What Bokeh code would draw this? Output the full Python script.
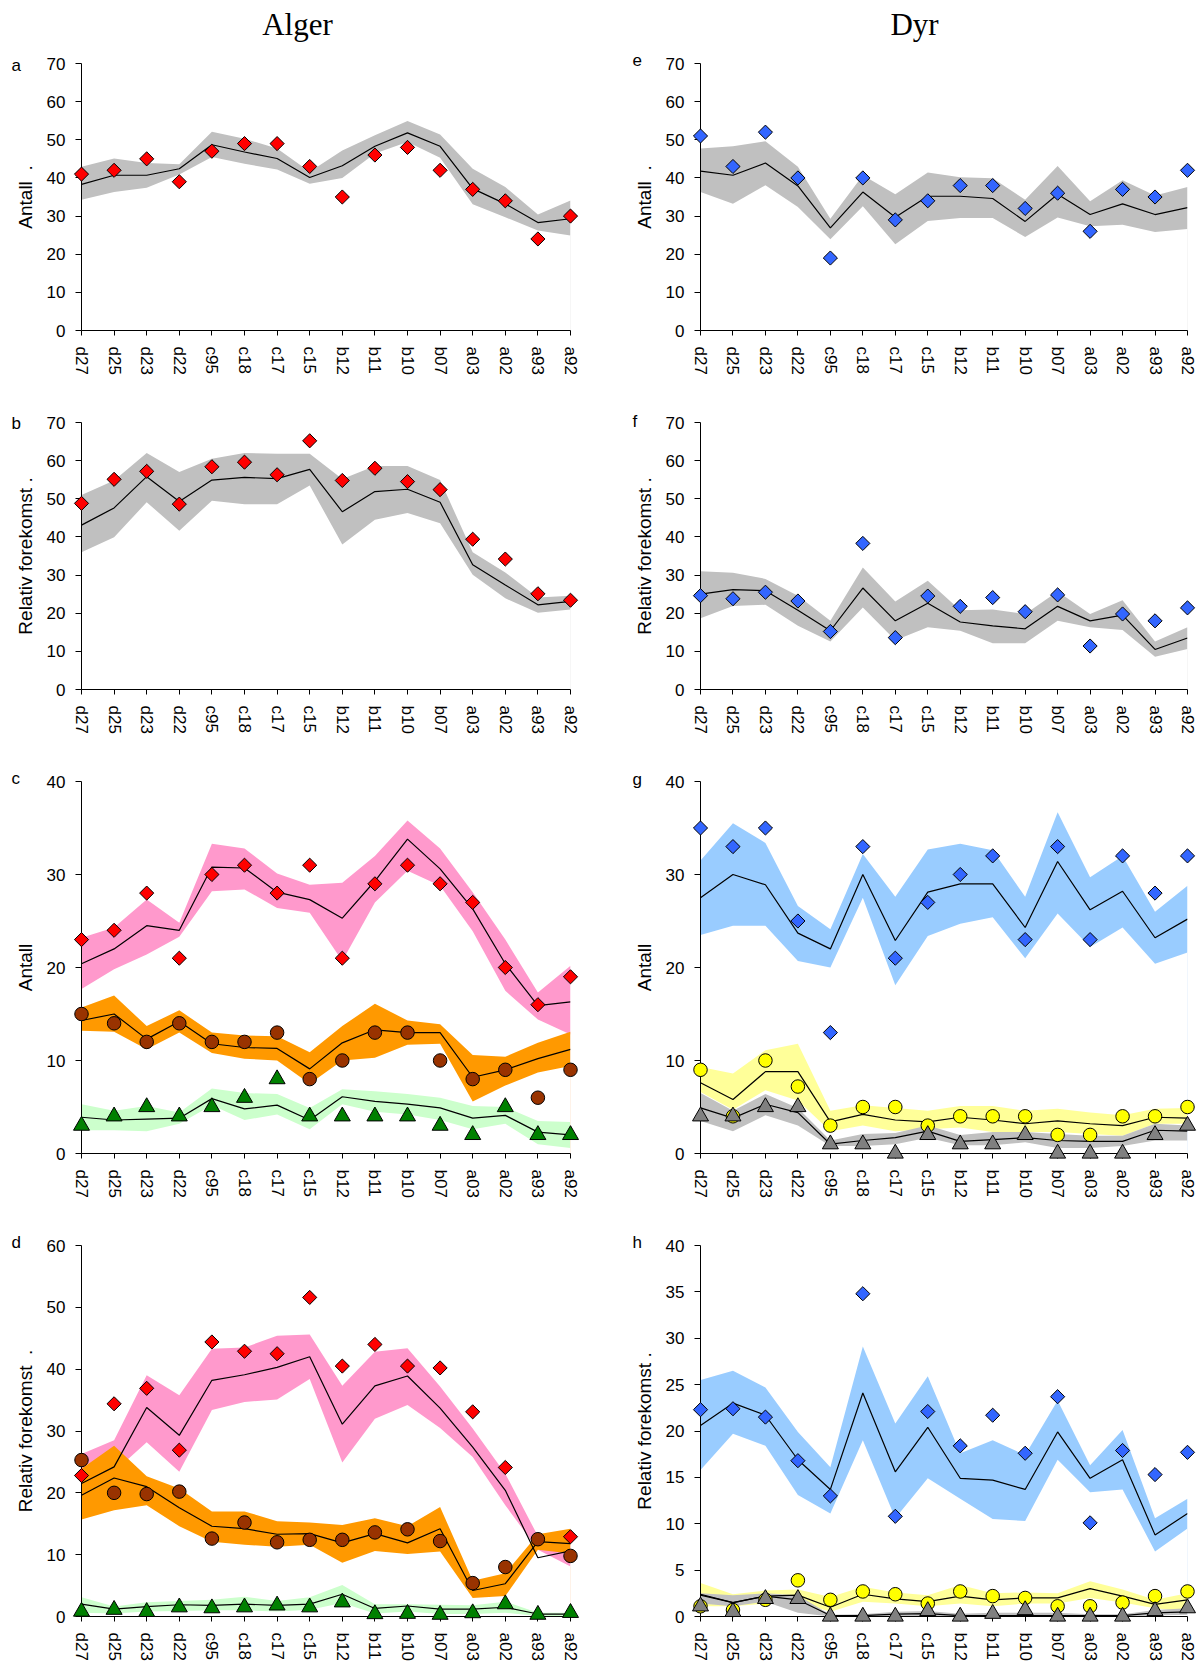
import math
from bokeh.plotting import figure
from bokeh.models import Range1d, FixedTicker
from bokeh.core.properties import value
from bokeh.layouts import column, row
from bokeh.embed import file_html
from bokeh.resources import INLINE

NaN = float("nan")

cats = ["d27", "d25", "d23", "d22", "c95", "c18", "c17", "c15",
        "b12", "b11", "b10", "b07", "a03", "a02", "a93", "a92"]

# ---- panel a (Alger, Antall) ----
a_obs = [41, 42, 45, 39, 47, 49, 49, 43, 35, 46, 48, 42, 37, 34, 24, 30]
a_mean = [38.3, 40.7, 40.7, 42.4, 48.7, 46.8, 45.1, 40.1, 43.2, 48.3, 51.8, 48.3, 37.2, 33.2, 28.3, 29.3]
a_hi = [42.9, 45.1, 43.9, 43.6, 52.1, 50.3, 47.7, 41.6, 47.2, 51.2, 54.9, 51.4, 42.4, 37.6, 30.4, 34.1]
a_lo = [34.3, 36.3, 37.4, 40.9, 45.5, 43.7, 42.2, 38.5, 40.0, 46.4, 49.4, 45.3, 33.1, 29.7, 26.2, 24.9]

# ---- panel b (Alger, Relativ forekomst) ----
b_obs = [48.8, 55.1, 57.2, 48.6, 58.4, 59.6, 56.3, 65.2, 54.8, 58.0, 54.5, 52.4, 39.4, 34.2, 25.1, 23.4]
b_mean = [43.1, 47.6, 55.8, 49.3, 54.9, 55.6, 55.3, 57.7, 46.6, 51.9, 52.5, 49.1, 32.7, 27.4, 22.2, 23.1]
b_hi = [51.0, 54.8, 62.0, 57.0, 60.5, 62.0, 61.8, 61.8, 55.2, 58.6, 58.6, 54.9, 36.0, 30.7, 24.1, 24.6]
b_lo = [36.0, 39.9, 49.1, 41.6, 49.5, 48.6, 48.6, 53.5, 38.0, 44.5, 46.3, 43.6, 30.1, 23.9, 20.1, 21.0]

# ---- panel c (Alger, Antall, three groups) ----
c_red_obs = [23, 24, 28, 21, 30, 31, 28, 31, 21, 29, 31, 29, 27, 20, 16, 19]
c_red_mean = [20.4, 22.0, 24.5, 24.0, 30.8, 30.7, 28.1, 27.3, 25.3, 29.3, 33.8, 30.6, 26.3, 20.4, 15.9, 16.3]
c_red_hi = [23.2, 24.3, 27.3, 24.8, 33.3, 32.8, 30.1, 28.9, 29.1, 32.0, 35.8, 32.8, 28.1, 23.0, 17.3, 20.2]
c_red_lo = [17.7, 19.8, 21.4, 23.3, 28.2, 28.4, 26.4, 25.9, 20.7, 27.0, 30.4, 28.8, 23.9, 17.5, 14.4, 12.8]
c_brown_obs = [15, 14, 12, 14, 12, 12, 13, 8, 10, 13, 13, 10, 8, 9, 6, 9]
c_brown_mean = [14.3, 15.0, 12.3, 14.2, 11.8, 11.4, 11.3, 9.1, 11.9, 13.3, 13.0, 13.0, 8.2, 9.0, 10.2, 11.2]
c_brown_hi = [15.7, 17.0, 13.7, 15.4, 13.0, 12.7, 12.6, 10.9, 13.7, 16.1, 14.3, 13.9, 10.6, 10.4, 11.9, 13.1]
c_brown_lo = [13.2, 13.1, 11.2, 13.0, 10.8, 10.2, 10.0, 7.5, 10.0, 10.3, 11.7, 11.8, 5.6, 7.3, 8.7, 9.4]
c_green_obs = [3, 4, 5, 4, 5, 6, 8, 4, 4, 4, 4, 3, 2, 5, 2, 2]
c_green_mean = [3.9, 3.6, 3.7, 3.8, 5.9, 4.8, 5.2, 3.6, 6.1, 5.6, 5.3, 4.9, 3.8, 4.1, 2.3, 2.0]
c_green_hi = [5.3, 4.6, 5.1, 4.4, 7.0, 6.5, 6.4, 4.9, 6.9, 6.7, 6.4, 6.0, 5.1, 5.0, 3.5, 3.4]
c_green_lo = [2.5, 2.5, 2.4, 3.2, 5.2, 3.6, 4.2, 2.6, 5.3, 4.5, 4.2, 3.6, 2.6, 3.2, 1.0, 0.6]

# ---- panel d (Alger, Relativ forekomst, three groups) ----
d_red_obs = [22.8, 34.4, 36.9, 26.9, 44.4, 42.9, 42.5, 51.6, 40.5, 44.0, 40.5, 40.2, 33.1, 24.1, NaN, 12.9]
d_red_mean = [21.5, 24.2, 33.8, 29.3, 38.2, 39.1, 40.3, 42.0, 31.1, 37.3, 38.9, 33.7, 27.4, 20.4, 9.5, 10.6]
d_red_hi = [26.3, 28.5, 39.0, 35.8, 43.3, 43.5, 45.4, 45.6, 37.3, 42.8, 43.4, 37.2, 30.4, 23.1, 13.0, 13.7]
d_red_lo = [18.8, 23.4, 28.2, 23.4, 33.4, 34.7, 35.1, 38.4, 24.9, 32.0, 34.2, 30.5, 25.8, 18.0, 10.8, 8.1]
d_brown_obs = [25.3, 20.0, 19.8, 20.2, 12.6, 15.2, 12.0, 12.4, 12.4, 13.6, 14.1, 12.2, 5.4, 8.0, 12.5, 9.8]
d_brown_mean = [19.6, 22.4, 21.0, 17.6, 14.6, 14.2, 13.3, 13.4, 11.9, 13.4, 11.9, 14.2, 4.2, 5.3, 12.1, 11.8]
d_brown_hi = [23.9, 27.6, 22.7, 20.7, 17.0, 17.0, 15.4, 15.2, 14.8, 15.9, 14.6, 17.7, 5.8, 7.0, 13.3, 14.2]
d_brown_lo = [15.7, 17.2, 18.0, 14.6, 12.1, 11.6, 11.3, 11.6, 8.7, 10.6, 10.1, 10.5, 3.0, 3.3, 10.8, 10.2]
d_green_obs = [0.8, 1.1, 0.75, 1.5, 1.35, 1.5, 1.8, 1.5, 2.3, 0.4, 0.45, 0.3, 0.55, 2.0, 0.3, 0.6]
d_green_mean = [2.0, 1.2, 1.6, 1.9, 1.8, 2.0, 1.8, 2.0, 3.6, 1.3, 1.7, 1.2, 1.2, 1.5, 0.4, 0.4]
d_green_hi = [3.1, 1.6, 2.3, 2.5, 2.7, 3.2, 2.5, 3.1, 5.1, 2.0, 2.0, 1.9, 1.8, 2.4, 0.6, 0.6]
d_green_lo = [0.6, 0.5, 0.8, 0.9, 1.0, 1.0, 0.8, 1.1, 2.2, 0.5, 0.8, 0.4, 0.4, 0.6, 0.1, 0.1]

# ---- panel e (Dyr, Antall) ----
e_obs = [51, 43, 52, 40, 19, 40, 29, 34, 38, 38, 32, 36, 26, 37, 35, 42]
e_mean = [41.8, 40.7, 43.9, 37.9, 26.9, 36.3, 29.7, 35.2, 35.2, 34.6, 28.6, 35.7, 30.4, 33.2, 30.4, 32.2]
e_hi = [47.7, 48.3, 49.6, 42.9, 29.3, 40.7, 35.7, 41.4, 40.2, 39.9, 34.3, 43.1, 33.9, 39.4, 35.4, 37.6]
e_lo = [36.3, 33.2, 38.1, 32.4, 23.9, 32.6, 22.6, 28.7, 29.5, 29.5, 24.5, 29.6, 27.3, 27.7, 25.8, 26.6]

# ---- panel f (Dyr, Relativ forekomst) ----
f_obs = [24.6, 23.8, 25.5, 23.2, 15.2, 38.3, 13.6, 24.5, 21.8, 24.1, 20.4, 24.8, 11.4, 19.8, 18.0, 21.4]
f_mean = [25.0, 26.2, 25.9, 20.8, 15.4, 26.6, 18.0, 22.6, 17.7, 16.7, 15.9, 21.8, 18.0, 19.5, 10.5, 13.5]
f_hi = [31.0, 30.6, 29.0, 24.6, 18.0, 32.0, 23.1, 28.5, 20.8, 21.0, 19.8, 25.7, 19.8, 23.4, 12.6, 16.3]
f_lo = [18.7, 21.9, 22.2, 16.7, 12.6, 21.5, 12.9, 16.3, 15.4, 12.1, 12.1, 18.0, 16.3, 15.6, 8.6, 10.6]

# ---- panel g (Dyr, Antall, three groups) ----
g_blue_obs = [35, 33, 35, 25, 13, 33, 21, 27, 30, 32, 23, 33, 23, 32, 28, 32]
g_blue_mean = [27.5, 30.0, 28.9, 23.7, 22.0, 30.0, 22.9, 28.1, 29.0, 29.0, 24.3, 31.4, 26.2, 28.2, 23.2, 25.2]
g_blue_hi = [31.5, 35.5, 33.4, 26.6, 24.1, 32.2, 27.6, 32.7, 33.3, 32.6, 27.6, 36.7, 29.7, 32.0, 26.0, 28.8]
g_blue_lo = [23.5, 24.5, 24.5, 20.7, 20.0, 27.5, 18.1, 23.4, 24.7, 25.4, 21.0, 25.8, 22.2, 24.3, 20.4, 21.6]
g_yel_obs = [9, 4, 10, 7.2, 3, 5, 5, 3, 4, 4, 4, 2, 2, 4, 4, 5]
g_yel_mean = [7.6, 5.8, 8.8, 8.8, 3.4, 4.2, 3.6, 3.4, 3.9, 3.6, 3.2, 3.5, 3.2, 3.0, 3.9, 3.8]
g_yel_hi = [9.3, 8.6, 11.1, 11.8, 4.6, 5.2, 4.9, 4.6, 5.1, 5.1, 4.6, 4.8, 4.4, 4.1, 4.8, 4.9]
g_yel_lo = [6.6, 4.7, 6.8, 5.7, 2.4, 3.0, 2.4, 2.6, 2.8, 2.3, 2.3, 2.3, 2.1, 1.9, 3.2, 3.2]
g_grey_obs = [4, 4, 5, 5, 1, 1, 0, 2, 1, 1, 2, 0, 0, 0, 2, 3]
g_grey_mean = [4.9, 3.8, 5.3, 4.4, 1.0, 1.4, 1.7, 2.4, 1.3, 1.5, 1.7, 1.4, 1.3, 1.3, 2.5, 2.4]
g_grey_hi = [6.5, 4.6, 6.4, 4.9, 1.4, 2.1, 2.2, 3.0, 2.0, 2.3, 2.3, 2.1, 1.9, 1.9, 3.2, 3.0]
g_grey_lo = [3.5, 2.4, 4.1, 3.0, 0.8, 0.8, 1.0, 1.7, 0.9, 0.9, 1.2, 0.6, 0.6, 0.8, 1.4, 1.4]

# ---- panel h (Dyr, Relativ forekomst, three groups) ----
h_blue_obs = [22.3, 22.4, 21.5, 16.8, 13.0, 34.8, 10.8, 22.1, 18.4, 21.7, 17.6, 23.7, 10.1, 17.9, 15.3, 17.7]
h_blue_mean = [20.6, 23.0, 21.7, 16.9, 13.7, 24.1, 15.6, 20.4, 14.9, 14.7, 13.7, 19.9, 14.9, 16.9, 8.8, 11.1]
h_blue_hi = [25.5, 26.5, 24.7, 19.9, 16.1, 29.1, 20.8, 25.9, 17.6, 19.0, 17.4, 23.3, 16.3, 20.1, 10.6, 12.7]
h_blue_lo = [15.8, 19.7, 18.4, 13.1, 11.1, 19.0, 10.6, 14.9, 12.7, 10.5, 10.3, 16.9, 13.4, 13.7, 7.0, 9.5]
h_yel_obs = [1.1, 0.7, 1.8, 3.9, 1.8, 2.7, 2.4, 1.4, 2.7, 2.2, 2.0, 1.1, 1.1, 1.5, 2.2, 2.7]
h_yel_mean = [2.3, 1.5, 2.2, 2.3, 1.0, 2.4, 1.9, 1.6, 2.2, 1.8, 2.0, 2.0, 3.0, 2.2, 1.3, 1.8]
h_yel_hi = [3.6, 2.4, 2.8, 2.9, 2.1, 3.2, 2.6, 2.3, 3.4, 2.5, 2.6, 2.5, 3.8, 2.9, 1.8, 2.5]
h_yel_lo = [1.1, 1.1, 1.4, 1.6, 0.5, 1.6, 1.4, 1.1, 1.4, 1.1, 1.4, 1.4, 2.0, 1.5, 0.9, 0.5]
h_grey_obs = [1.1, 0.5, 1.9, 1.9, 0.0, 0.0, 0.0, 0.6, 0.0, 0.3, 0.7, 0.0, 0.0, 0.0, 0.6, 0.9]
h_grey_mean = [2.4, 1.5, 2.2, 1.8, 0.1, 0.1, 0.25, 0.3, 0.1, 0.1, 0.1, 0.1, 0.1, 0.1, 0.4, 0.5]
h_grey_hi = [2.5, 2.3, 2.5, 2.3, 0.2, 0.25, 0.5, 0.6, 0.3, 0.4, 0.4, 0.4, 0.25, 0.25, 0.7, 0.9]
h_grey_lo = [1.4, 1.1, 1.6, 0.4, 0.0, 0.0, 0.0, 0.0, 0.0, 0.0, 0.0, 0.0, 0.0, 0.0, 0.1, 0.2]

FONT = "Liberation Sans"
SERIF = "Liberation Serif"
xs = list(range(len(cats)))
XMAX = len(cats) - 1

MARK = {
    "diamond": dict(marker="square", angle=math.pi / 4, size=10),
    "circle": dict(marker="circle", size=13.5),
    "triangle": dict(marker="triangle", size=16),
}


def series(obs, mean, lo, hi, band, marker, fill, order):
    return dict(obs=obs, mean=mean, lo=lo, hi=hi, band=band, marker=marker, fill=fill, order=order)


def panel(width, height, bl, br, bt, bb, ymax, ystep, ylabel, letter, letter_dx, letter_dy,
          sers, edge_color, title=None, title_dx=0):
    p = figure(width=width, height=height, x_range=Range1d(0, XMAX), y_range=Range1d(0, ymax),
               output_backend="svg", toolbar_location=None,
               min_border_left=bl, min_border_right=br, min_border_top=bt, min_border_bottom=bb)
    p.background_fill_color = "white"
    p.border_fill_color = "white"
    p.outline_line_color = None
    p.xgrid.grid_line_color = None
    p.ygrid.grid_line_color = None

    fw = width - bl - br
    fh = height - bt - bb
    px_x = XMAX / fw      # data units per pixel, x
    px_y = ymax / fh      # data units per pixel, y

    for s in sers:
        p.varea(x=xs, y1=s["lo"], y2=s["hi"], fill_color=s["band"], fill_alpha=1.0)
    # faint right edge of the filled areas
    p.segment(x0=[XMAX], y0=[0], x1=[XMAX], y1=[sers[0]["lo"][-1]], line_color=edge_color, line_width=1)
    for s in sers:
        p.line(x=xs, y=s["mean"], line_color="black", line_width=1.2)
    for s in sorted(sers, key=lambda t: t["order"]):
        p.scatter(x=xs, y=s["obs"], fill_color=s["fill"], line_color="black", line_width=1,
                  level="overlay", **MARK[s["marker"]])

    xa = p.xaxis[0]
    xa.ticker = FixedTicker(ticks=xs)
    xa.major_label_overrides = {i: c for i, c in enumerate(cats)}
    xa.major_label_orientation = "vertical"
    xa.major_label_text_font = FONT
    xa.major_label_text_font_size = "17px"
    xa.major_label_text_color = "black"
    xa.major_label_standoff = 11
    xa.major_tick_in = 0
    xa.major_tick_out = 5
    xa.minor_tick_line_color = None
    xa.axis_line_color = "black"
    xa.major_tick_line_color = "black"

    ya = p.yaxis[0]
    ya.ticker = FixedTicker(ticks=list(range(0, ymax + 1, ystep)))
    ya.major_label_text_font = FONT
    ya.major_label_text_font_size = "17px"
    ya.major_label_text_color = "black"
    ya.major_label_standoff = 10
    ya.major_tick_in = 0
    ya.major_tick_out = 6
    ya.minor_tick_line_color = None
    ya.axis_line_color = "black"
    ya.major_tick_line_color = "black"
    ya.axis_label = ylabel
    ya.axis_label_text_font = FONT
    ya.axis_label_text_font_size = "19px"
    ya.axis_label_text_font_style = "normal"
    ya.axis_label_text_color = "black"
    ya.axis_label_standoff = 8

    # panel letter, left of the y axis, level with the top tick
    p.text(x=[letter_dx * px_x], y=[ymax - letter_dy * px_y], text=[letter],
           text_font=value(FONT), text_font_size="17px", text_color="black",
           text_align="left", text_baseline="middle", level="overlay")
    if title:
        p.text(x=[title_dx * px_x], y=[ymax + 39.5 * px_y], text=[title],
               text_font=value(SERIF), text_font_size="31px", text_color="black",
               text_align="center", text_baseline="middle", level="overlay")
    return p


LW, LBL, LBR = 620, 81, 50
RW, RBL, RBR = 579, 80, 12

GREY = "#C0C0C0"
PINK = "#FF99CC"
ORANGE = "#FF9900"
LGREEN = "#CCFFCC"
LBLUE = "#99CCFF"
LYEL = "#FFFF99"

pa = panel(LW, 380, LBL, LBR, 63, 50, 70, 10, "Antall \u00a0.", "a", -70, 1.5,
           [series(a_obs, a_mean, a_lo, a_hi, GREY, "diamond", "#FF0000", 3)], "#eeeeee",
           title="Alger", title_dx=216)
pe = panel(RW, 380, RBL, RBR, 63, 50, 70, 10, "Antall \u00a0.", "e", -68, -3.8,
           [series(e_obs, e_mean, e_lo, e_hi, GREY, "diamond", "#3366FF", 3)], "#eeeeee",
           title="Dyr", title_dx=214)

pb = panel(LW, 360, LBL, LBR, 42, 51, 70, 10, "Relativ forekomst .", "b", -70, 0.7,
           [series(b_obs, b_mean, b_lo, b_hi, GREY, "diamond", "#FF0000", 3)], "#eeeeee")
pf = panel(RW, 360, RBL, RBR, 42, 51, 70, 10, "Relativ forekomst .", "f", -68, -1.5,
           [series(f_obs, f_mean, f_lo, f_hi, GREY, "diamond", "#3366FF", 3)], "#eeeeee")

pc = panel(LW, 460, LBL, LBR, 41, 47, 40, 10, "Antall", "c", -70, -2.6,
           [series(c_red_obs, c_red_mean, c_red_lo, c_red_hi, PINK, "diamond", "#FF0000", 3),
            series(c_brown_obs, c_brown_mean, c_brown_lo, c_brown_hi, ORANGE, "circle", "#993300", 1),
            series(c_green_obs, c_green_mean, c_green_lo, c_green_hi, LGREEN, "triangle", "#008000", 2)],
           "#fde6d2")
pg = panel(RW, 460, RBL, RBR, 41, 47, 40, 10, "Antall", "g", -68, -2.3,
           [series(g_blue_obs, g_blue_mean, g_blue_lo, g_blue_hi, LBLUE, "diamond", "#3366FF", 3),
            series(g_yel_obs, g_yel_mean, g_yel_lo, g_yel_hi, LYEL, "circle", "#FFFF00", 1),
            series(g_grey_obs, g_grey_mean, g_grey_lo, g_grey_hi, GREY, "triangle", "#808080", 2)],
           "#e2eefb")

pd_ = panel(LW, 463, LBL, LBR, 45, 46, 60, 10, "Relativ forekomst \u00a0.", "d", -70, -3.4,
            [series(d_red_obs, d_red_mean, d_red_lo, d_red_hi, PINK, "diamond", "#FF0000", 3),
             series(d_brown_obs, d_brown_mean, d_brown_lo, d_brown_hi, ORANGE, "circle", "#993300", 1),
             series(d_green_obs, d_green_mean, d_green_lo, d_green_hi, LGREEN, "triangle", "#008000", 2)],
            "#fde6d2")
ph = panel(RW, 463, RBL, RBR, 45, 46, 40, 5, "Relativ forekomst .", "h", -68, -3.4,
           [series(h_blue_obs, h_blue_mean, h_blue_lo, h_blue_hi, LBLUE, "diamond", "#3366FF", 3),
            series(h_yel_obs, h_yel_mean, h_yel_lo, h_yel_hi, LYEL, "circle", "#FFFF00", 1),
            series(h_grey_obs, h_grey_mean, h_grey_lo, h_grey_hi, GREY, "triangle", "#808080", 2)],
           "#e2eefb")

layout = column(row(pa, pe), row(pb, pf), row(pc, pg), row(pd_, ph))
open("out.html", "w").write(file_html(layout, INLINE))
